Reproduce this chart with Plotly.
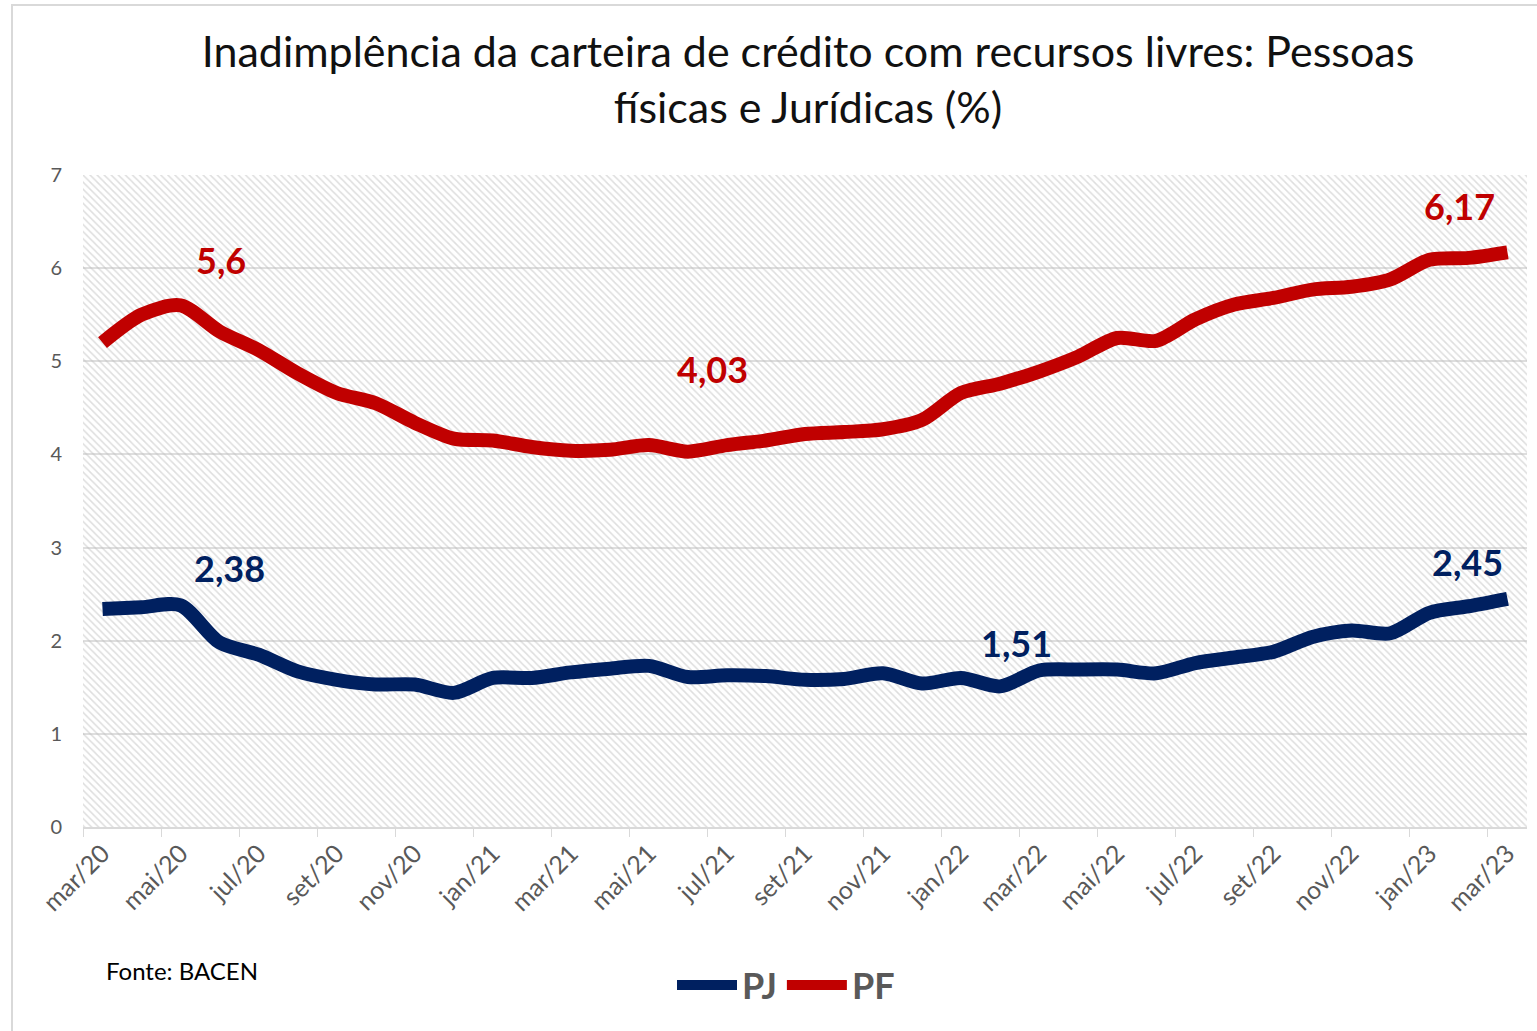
import plotly.graph_objects as go

months = ["mar/20","abr/20","mai/20","jun/20","jul/20","ago/20","set/20","out/20","nov/20","dez/20",
          "jan/21","fev/21","mar/21","abr/21","mai/21","jun/21","jul/21","ago/21","set/21","out/21","nov/21","dez/21",
          "jan/22","fev/22","mar/22","abr/22","mai/22","jun/22","jul/22","ago/22","set/22","out/22","nov/22","dez/22",
          "jan/23","fev/23","mar/23"]

pf = [5.20, 5.50, 5.60, 5.32, 5.12, 4.87, 4.66, 4.55, 4.34, 4.17,
      4.15, 4.08, 4.04, 4.05, 4.10, 4.03, 4.10, 4.15, 4.22, 4.24, 4.27, 4.37,
      4.66, 4.76, 4.89, 5.05, 5.25, 5.22, 5.45, 5.61, 5.68, 5.77, 5.80, 5.88,
      6.09, 6.11, 6.17]

pj = [2.34, 2.36, 2.38, 1.98, 1.85, 1.67, 1.58, 1.53, 1.53, 1.44,
      1.60, 1.60, 1.66, 1.70, 1.73, 1.61, 1.63, 1.62, 1.58, 1.59, 1.65, 1.54,
      1.60, 1.51, 1.68, 1.69, 1.69, 1.65, 1.76, 1.82, 1.88, 2.04, 2.11, 2.08,
      2.30, 2.37, 2.45]

yticks = [0, 1, 2, 3, 4, 5, 6, 7]

# labelled points: (index, xshift, yshift)
pf_labels = [(2, 40, 45), (15, 25, 83), (36, -48, 46)]
pj_labels = [(2, 49, 37), (23, 16, 43), (36, -40, 37)]

RED = "#c00000"
BLUE = "#002060"
FONT = "Lato"

fig = go.Figure()

# hatched plot background (decorative, on hidden unit axes)
fig.add_trace(go.Scatter(
    x=[0, 1, 1, 0, 0], y=[0, 0, 1, 1, 0], mode="none", fill="toself",
    fillcolor="rgba(0,0,0,0)",
    fillpattern=dict(shape="\\", size=5, solidity=0.3, fgcolor="#bdbdbd", bgcolor="rgba(0,0,0,0)"),
    hoverinfo="skip", showlegend=False, xaxis="x", yaxis="y"))

fig.add_trace(go.Scatter(
    x=months, y=pj, name="PJ", mode="lines",
    line=dict(color=BLUE, width=14, shape="spline", smoothing=0.8),
    xaxis="x2", yaxis="y2"))
fig.add_trace(go.Scatter(
    x=months, y=pf, name="PF", mode="lines",
    line=dict(color=RED, width=14, shape="spline", smoothing=0.8),
    xaxis="x2", yaxis="y2"))

def fmt(v):
    return f"{v:g}".replace(".", ",")

annotations = []
for series, color, labels in ((pf, RED, pf_labels), (pj, BLUE, pj_labels)):
    for i, dx, dy in labels:
        annotations.append(dict(
            x=months[i], y=series[i], xref="x2", yref="y2",
            text=f"<b>{fmt(series[i])}</b>", showarrow=False,
            xshift=dx, yshift=dy,
            font=dict(family=FONT, size=36, color=color)))

annotations.append(dict(
    x=(104 - 83) / 1444, y=(827 - 970) / 652, xref="paper", yref="paper",
    xanchor="left", yanchor="middle", showarrow=False,
    text="Fonte: BACEN", font=dict(family=FONT, size=24, color="#000000")))

fig.update_layout(
    width=1537, height=1031,
    margin=dict(l=83, r=10, t=175, b=204, autoexpand=False),
    paper_bgcolor="white", plot_bgcolor="white",
    title=dict(text="Inadimplência da carteira de crédito com recursos livres: Pessoas<br>físicas e Jurídicas (%)",
               x=808 / 1537, xanchor="center", y=1 - 67 / 1031, yanchor="middle",
               font=dict(family=FONT, size=43, color="#111111")),
    xaxis=dict(range=[0, 1], visible=False, fixedrange=True),
    yaxis=dict(range=[0, 1], visible=False, fixedrange=True),
    xaxis2=dict(overlaying="x", type="category", tickson="boundaries", dtick=2,
                range=[-0.5, len(months) - 0.5],
                ticks="outside", ticklen=8, tickcolor="#d9d9d9", tickwidth=1,
                showline=True, linecolor="#d9d9d9", linewidth=2,
                tickangle=-45, showgrid=False, automargin=False,
                tickfont=dict(family=FONT, size=25, color="#595959")),
    yaxis2=dict(overlaying="y", range=[0, 7], tickvals=yticks, showgrid=True,
                gridcolor="#dedede", gridwidth=2, zeroline=False, showline=False,
                ticks="", ticklabelstandoff=20, automargin=False,
                tickfont=dict(family=FONT, size=20, color="#595959")),
    legend=dict(orientation="h", x=(786 - 83) / 1444, xanchor="center", y=(827 - 985) / 652, yanchor="middle",
                font=dict(family=FONT, size=36, color="#595959", weight="bold"), itemwidth=60,
                bgcolor="rgba(0,0,0,0)"),
    annotations=annotations,
    shapes=[dict(type="rect", xref="paper", yref="paper",
                 x0=(12 - 83) / 1444, x1=(1540 - 83) / 1444,
                 y0=(827 - 1034) / 652, y1=(827 - 5) / 652,
                 line=dict(color="#d9d9d9", width=2), fillcolor="rgba(0,0,0,0)", layer="below")],
)

fig.write_html("out.html", config={"displayModeBar": False},
               post_script="document.body.style.margin='0';document.body.style.overflow='hidden';")
